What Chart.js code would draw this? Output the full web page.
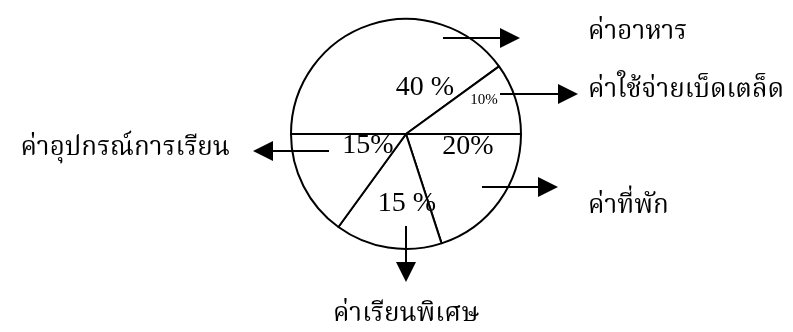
<!DOCTYPE html>
<html>
<head>
<meta charset="utf-8">
<script src="https://cdn.jsdelivr.net/npm/chart.js@4"></script>
<style>
    html, body { margin: 0; padding: 0; background: #fff; }
    #wrap { width: 793px; height: 332px; position: relative; }
</style>
</head>
<body>
<div id="wrap"><canvas id="expenseChart"></canvas></div>
<script>
const categories = ['ค่าอาหาร', 'ค่าใช้จ่ายเบ็ดเตล็ด', 'ค่าที่พัก', 'ค่าเรียนพิเศษ', 'ค่าอุปกรณ์การเรียน'];
const shares = [40, 10, 20, 15, 15];
const shareLabels = ['40 %', '10%', '20%', '15 %', '15%'];

const serif = "'Liberation Serif', 'Times New Roman', 'Noto Serif Thai', serif";

// where each piece of text / arrow sits, relative to the pie centre (px)
const insideText = [
    { dx: 19, dy: -46, size: 28 },
    { dx: 78, dy: -34, size: 15 },
    { dx: 62, dy: 13, size: 28 },
    { dx: 1, dy: 70, size: 28 },
    { dx: -38, dy: 12, size: 28 }
];
const arrows = [
    { x0: 37, y0: -96, x1: 114, y1: -96 },
    { x0: 94, y0: -40, x1: 172, y1: -40 },
    { x0: 76, y0: 53, x1: 152, y1: 53 },
    { x0: 0, y0: 92, x1: 0, y1: 148 },
    { x0: -77, y0: 17, x1: -153, y1: 17 }
];
const outsideText = [
    { dx: 182, dy: -95, align: 'left' },
    { dx: 182, dy: -37, align: 'left' },
    { dx: 182, dy: 79, align: 'left' },
    { dx: 0, dy: 187, align: 'center' },
    { dx: -176, dy: 21, align: 'right' }
];

const annotate = {
    id: 'annotate',
    afterDatasetsDraw(chart) {
        const ctx = chart.ctx;
        const arc = chart.getDatasetMeta(0).data[0];
        const cx = arc.x, cy = arc.y;
        ctx.save();
        ctx.fillStyle = '#000';
        ctx.strokeStyle = '#000';

        ctx.textAlign = 'center';
        ctx.textBaseline = 'middle';
        shareLabels.forEach((t, i) => {
            const p = insideText[i];
            ctx.font = p.size + 'px ' + serif;
            ctx.fillText(t, cx + p.dx, cy + p.dy);
        });

        ctx.lineWidth = 2;
        arrows.forEach(a => {
            const x0 = cx + a.x0, y0 = cy + a.y0, x1 = cx + a.x1, y1 = cy + a.y1;
            const ang = Math.atan2(y1 - y0, x1 - x0);
            const len = 20, half = 10;
            const bx = x1 - Math.cos(ang) * len, by = y1 - Math.sin(ang) * len;
            ctx.beginPath();
            ctx.moveTo(x0, y0);
            ctx.lineTo(bx, by);
            ctx.stroke();
            ctx.beginPath();
            ctx.moveTo(x1, y1);
            ctx.lineTo(bx - Math.sin(ang) * half, by + Math.cos(ang) * half);
            ctx.lineTo(bx + Math.sin(ang) * half, by - Math.cos(ang) * half);
            ctx.closePath();
            ctx.fill();
        });

        ctx.textBaseline = 'alphabetic';
        ctx.font = '26px ' + serif;
        categories.forEach((t, i) => {
            const p = outsideText[i];
            ctx.textAlign = p.align;
            ctx.fillText(t, cx + p.dx, cy + p.dy);
        });
        ctx.restore();
    }
};

new Chart(document.getElementById('expenseChart').getContext('2d'), {
    type: 'pie',
    data: {
        labels: categories,
        datasets: [{
            data: shares,
            backgroundColor: '#fff',
            borderColor: '#000',
            borderWidth: 2
        }]
    },
    options: {
        responsive: true,
        maintainAspectRatio: false,
        animation: false,
        rotation: -90,
        layout: { padding: { top: 18, bottom: 82, left: 19, right: 0 } },
        plugins: {
            legend: { display: false },
            tooltip: { enabled: false }
        }
    },
    plugins: [annotate]
});
</script>
</body>
</html>
